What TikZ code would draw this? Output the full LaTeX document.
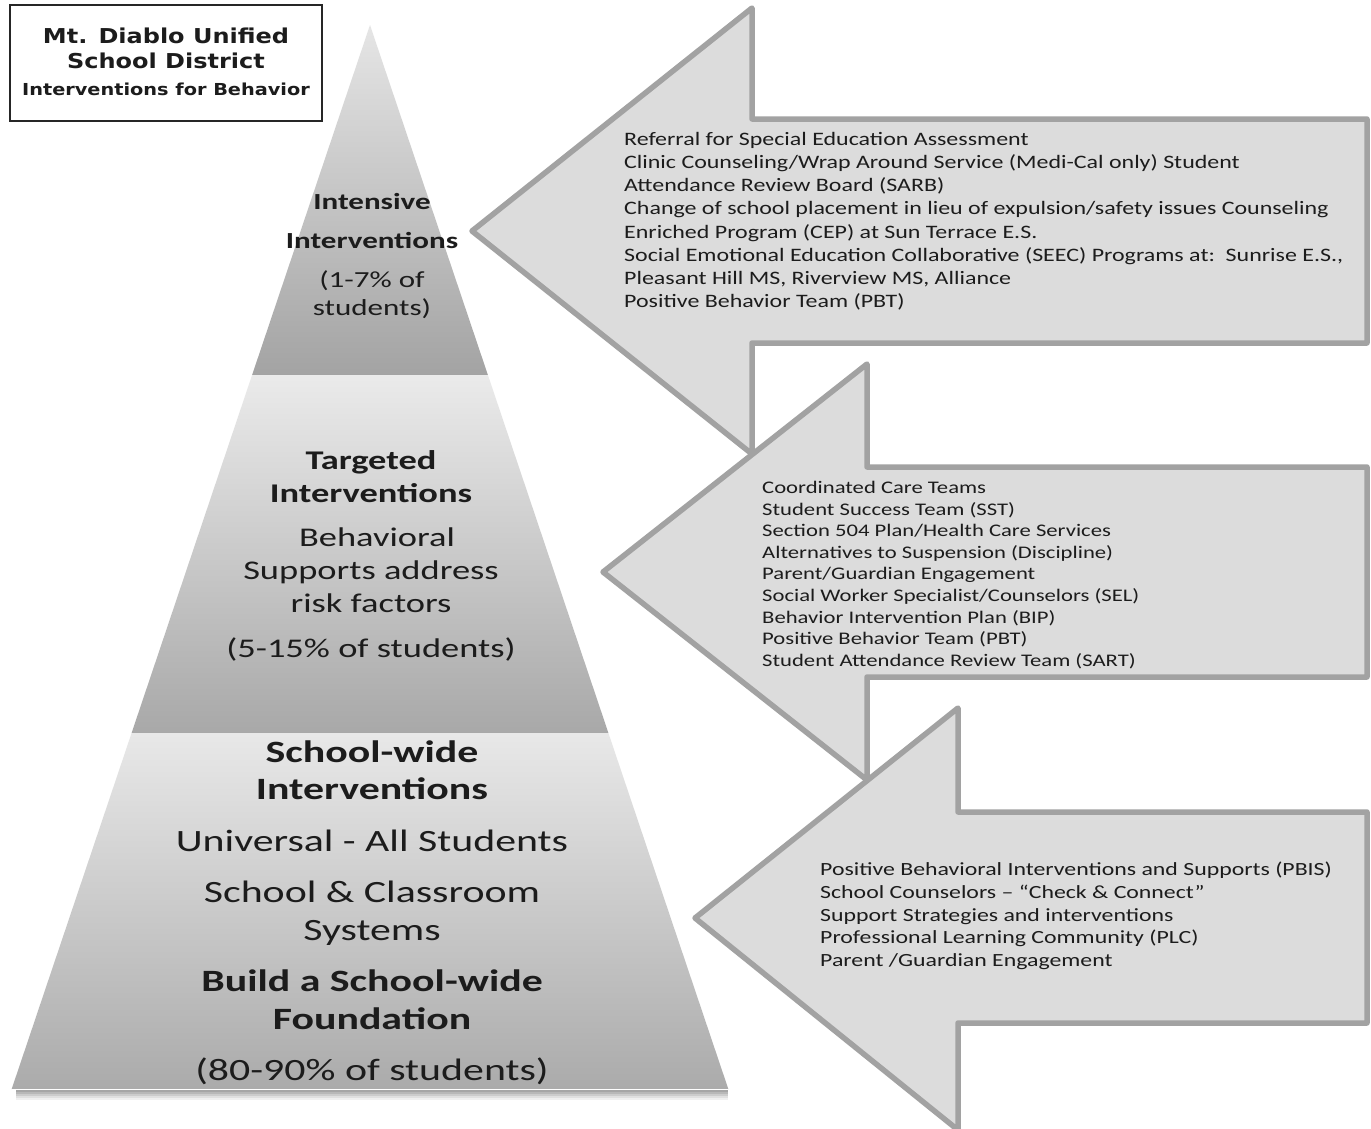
\documentclass[tikz,border=0pt]{standalone}
\usepackage{fontspec}
\newfontfamily\pyrfont[FakeStretch=1.35]{Carlito}
\newfontfamily\arrfont[FakeStretch=1.28]{Carlito}
\newfontfamily\arrfontb[FakeStretch=1.26]{Carlito}
\newfontfamily\ttlfont[FakeStretch=1.17]{DejaVu Sans}
\definecolor{arrfill}{HTML}{DCDCDC}
\definecolor{arrline}{HTML}{A2A2A2}
\definecolor{inktext}{HTML}{1C1C1C}
\tikzset{
  bigarrow/.style={fill=arrfill, draw=arrline, line width=5.5pt, line join=round},
  pyrtext/.style={align=center, inner sep=0pt, text=inktext},
  arrtext/.style={align=left, inner sep=0pt, anchor=north west, text=inktext},
}
\begin{document}
\begin{tikzpicture}[x=1pt,y=-1pt]
\useasboundingbox[fill=white] (0,0) rectangle (1371,1128);

% title box
\draw[line width=1.3pt, draw=black!85] (10,5) rectangle (322,121);
\node[align=center, inner sep=0pt, text=inktext, font=\ttlfont\bfseries\fontsize{20.5}{25}\selectfont] (title) at (166,62)
  {Mt. Diablo Unified\\
   School District\\[2pt]
   {\fontsize{16.5}{20}\selectfont Interventions for Behavior}};

% pyramid shadow
\foreach \d/\o in {2/0.35,4/0.28,6/0.2,8/0.12,10/0.06}
  \draw[black, opacity=\o, line width=2pt] (16,1089+\d) -- (728,1089+\d);

% pyramid tiers
\shade[top color=black!10, bottom color=black!36] (370,25) -- (487.9,375) -- (252.1,375) -- cycle;
\shade[top color=black!8, bottom color=black!34] (252.1,375) -- (487.9,375) -- (608.4,733) -- (131.6,733) -- cycle;
\shade[top color=black!9, bottom color=black!33] (131.6,733) -- (608.4,733) -- (728.3,1089) -- (11.7,1089) -- cycle;
\draw[white, line width=1pt] (11.7,1089) -- (728.3,1089);

% pyramid texts
\node[pyrtext, font=\pyrfont\fontsize{23}{28}\selectfont] (t1) at (372,256)
  {\textbf{Intensive}\\[11pt]
   \textbf{Interventions}\\[11pt]
   (1-7\% of\\
   students)};
\node[pyrtext, font=\pyrfont\fontsize{27}{33}\selectfont] (t2) at (371,556)
  {\textbf{Targeted}\\
   \textbf{Interventions}\\[11pt]
   \hspace*{12pt}Behavioral\\
   Supports address\\
   risk factors\\[12pt]
   (5-15\% of students)};
\node[pyrtext, font=\pyrfont\fontsize{31}{37.5}\selectfont] (t3) at (372,913)
  {\textbf{School-wide}\\
   \textbf{Interventions}\\[14pt]
   Universal - All Students\\[14pt]
   School \& Classroom\\
   Systems\\[14pt]
   \textbf{Build a School-wide}\\
   \textbf{Foundation}\\[14pt]
   (80-90\% of students)};

% arrows
\draw[bigarrow] (472,231) -- (752,8) -- (752,119) -- (1367,119) -- (1367,343) -- (752,343) -- (752,454) -- cycle;
\draw[bigarrow] (603,572) -- (867,364) -- (867,467) -- (1367,467) -- (1367,677) -- (867,677) -- (867,780) -- cycle;
\draw[bigarrow] (695,918) -- (958,708) -- (958,812) -- (1367,812) -- (1367,1023) -- (958,1023) -- (958,1130) -- cycle;

% arrow texts
\node[arrtext, font=\arrfontb\fontsize{19}{23.2}\selectfont] (a1) at (624,132)
  {Referral for Special Education Assessment\\
   Clinic Counseling/Wrap Around Service (Medi-Cal only) Student\\
   Attendance Review Board (SARB)\\
   Change of school placement in lieu of expulsion/safety issues Counseling\\
   Enriched Program (CEP) at Sun Terrace E.S.\\
   Social Emotional Education Collaborative (SEEC) Programs at:\ \ Sunrise E.S.,\\
   Pleasant Hill MS, Riverview MS, Alliance\\
   Positive Behavior Team (PBT)};
\node[arrtext, font=\arrfont\fontsize{17.7}{21.6}\selectfont] (a2) at (762,481)
  {Coordinated Care Teams\\
   Student Success Team (SST)\\
   Section 504 Plan/Health Care Services\\
   Alternatives to Suspension (Discipline)\\
   Parent/Guardian Engagement\\
   Social Worker Specialist/Counselors (SEL)\\
   Behavior Intervention Plan (BIP)\\
   Positive Behavior Team (PBT)\\
   Student Attendance Review Team (SART)};
\node[arrtext, font=\arrfont\fontsize{18.6}{22.7}\selectfont] (a3) at (820,862)
  {Positive Behavioral Interventions and Supports (PBIS)\\
   School Counselors – “Check \& Connect”\\
   Support Strategies and interventions\\
   Professional Learning Community (PLC)\\
   Parent /Guardian Engagement};
\end{tikzpicture}
\end{document}
